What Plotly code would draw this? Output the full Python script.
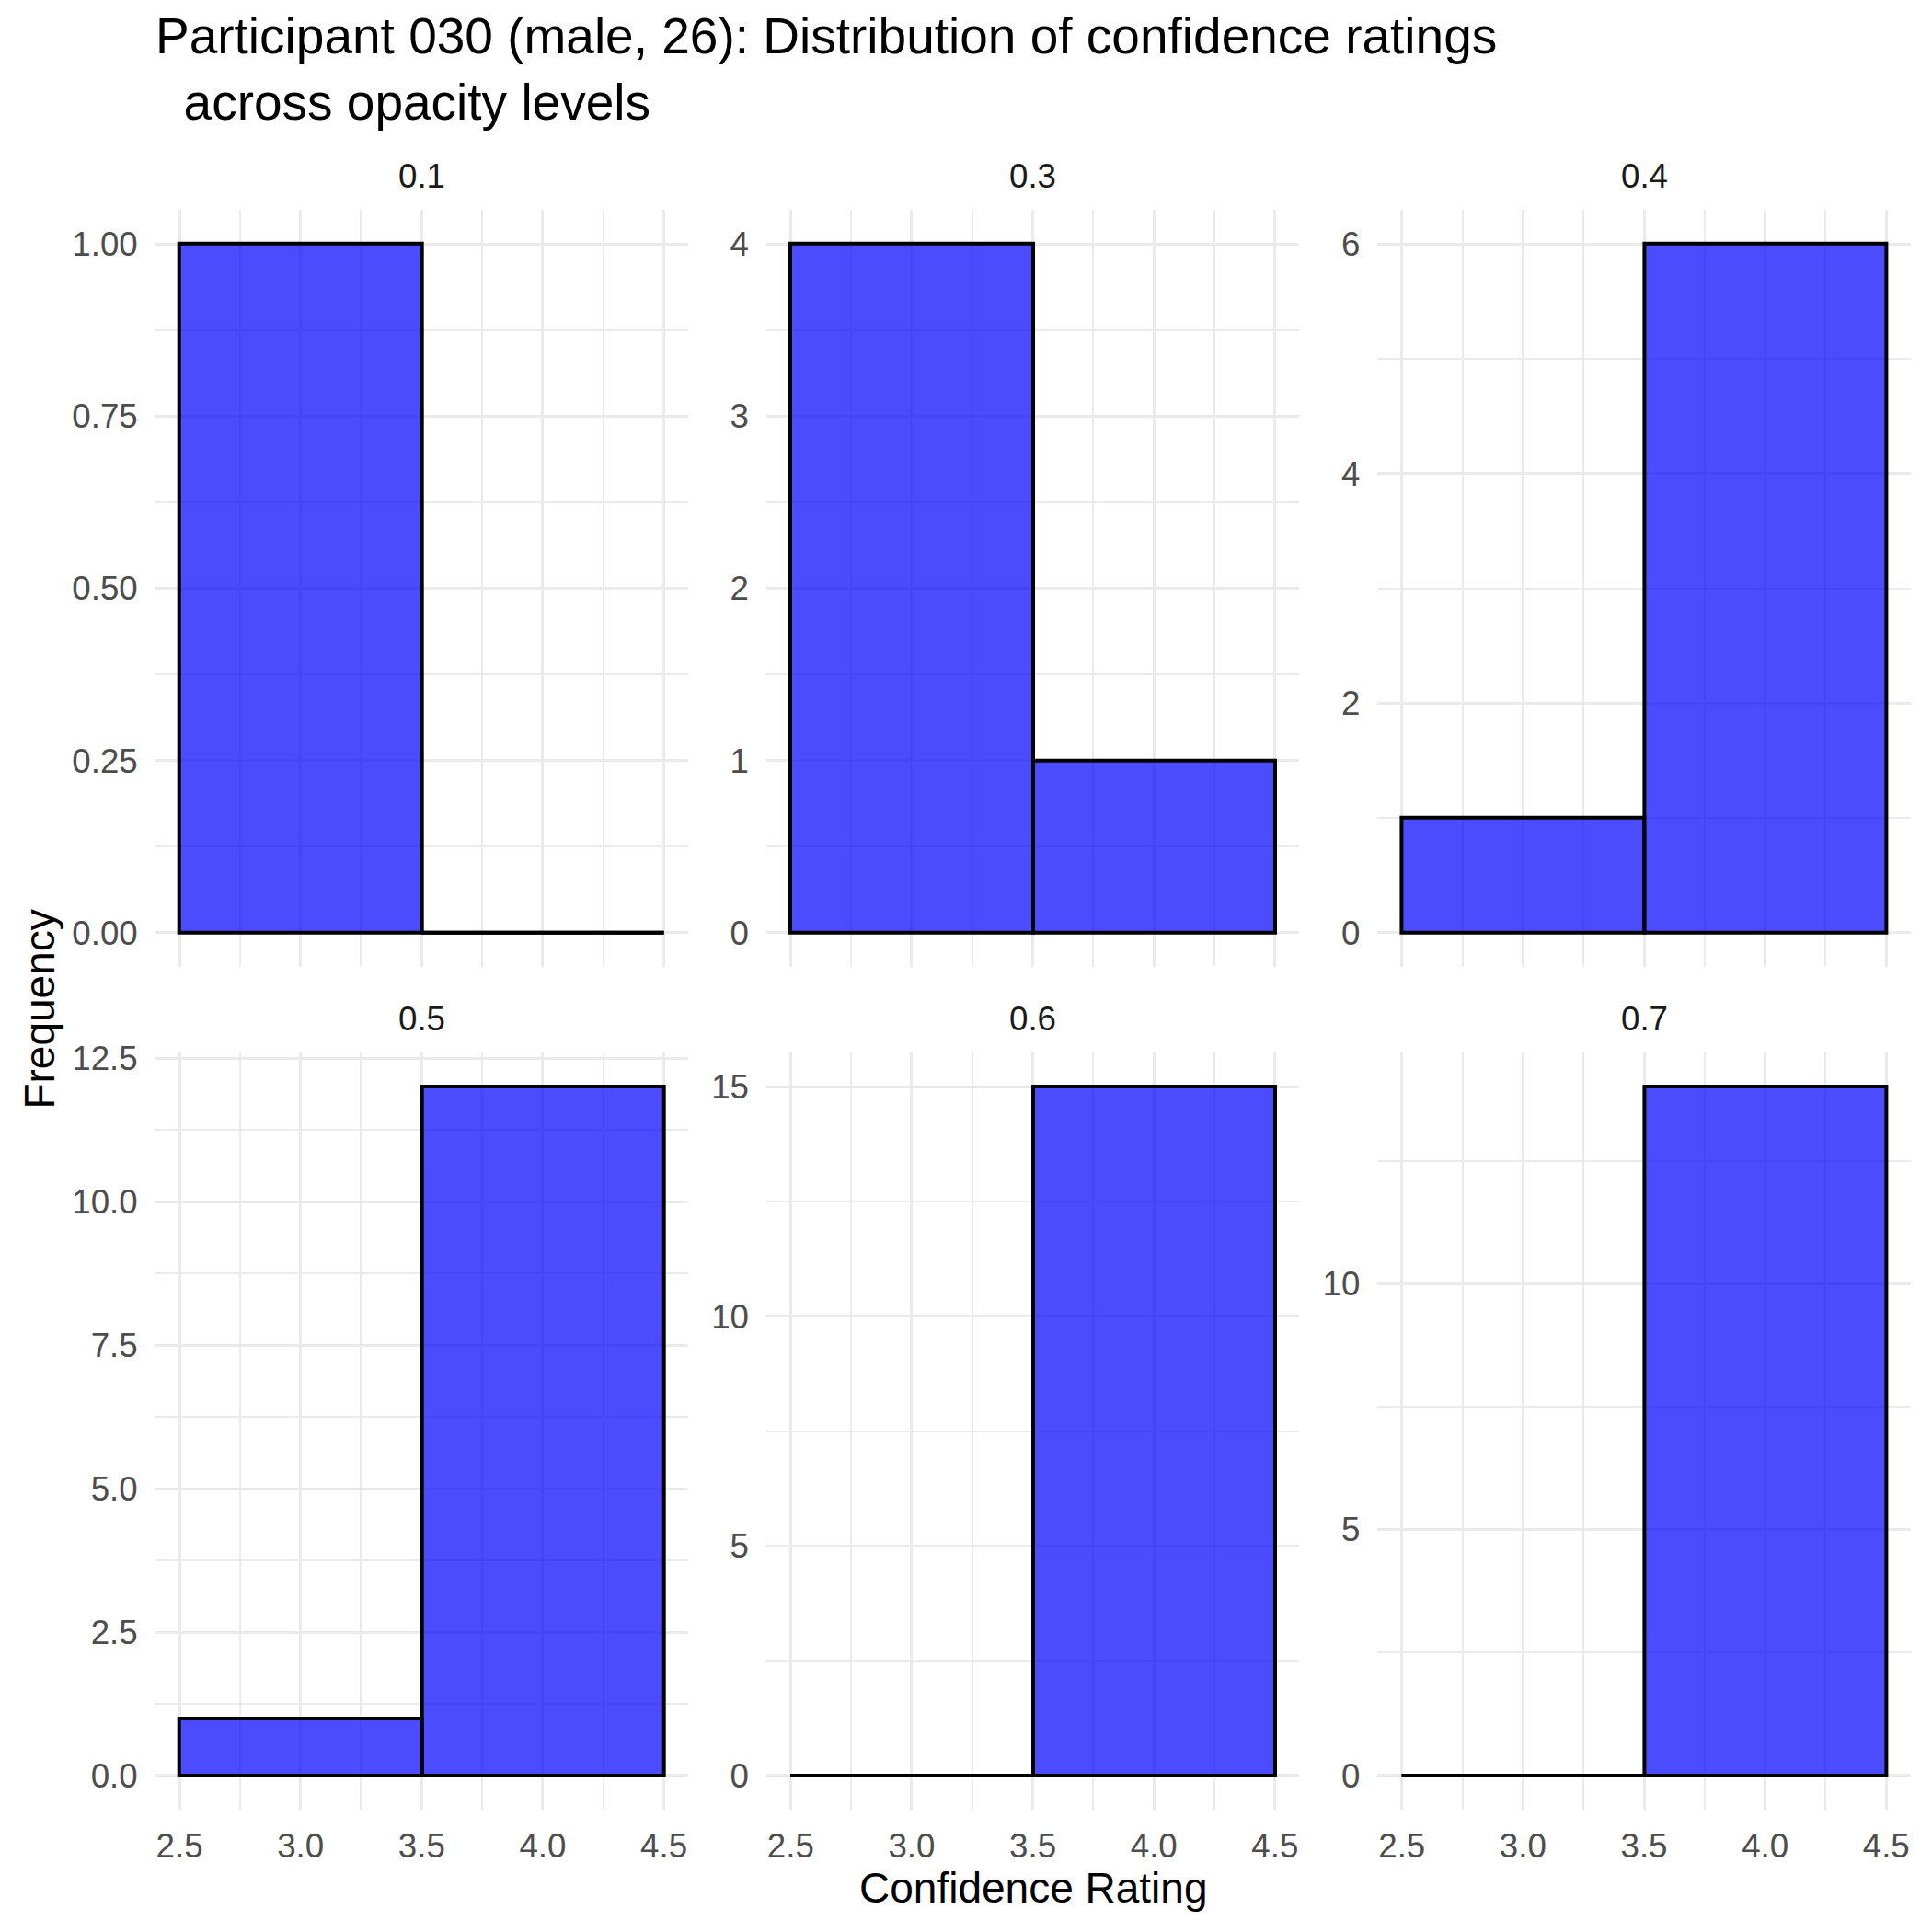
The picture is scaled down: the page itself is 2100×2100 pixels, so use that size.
import plotly.graph_objects as go

# ---------------- data ----------------
opacity_levels = ["0.1", "0.3", "0.4", "0.5", "0.6", "0.7"]
bin_edges = [2.5, 3.5, 4.5]

counts_01 = [1, 0]
counts_03 = [4, 1]
counts_04 = [1, 6]
counts_05 = [1, 12]
counts_06 = [0, 15]
counts_07 = [0, 14]

yticks_01 = [0, 0.25, 0.5, 0.75, 1.0]
ylabels_01 = ["0.00", "0.25", "0.50", "0.75", "1.00"]
yticks_03 = [0, 1, 2, 3, 4]
ylabels_03 = ["0", "1", "2", "3", "4"]
yticks_04 = [0, 2, 4, 6]
ylabels_04 = ["0", "2", "4", "6"]
yticks_05 = [0, 2.5, 5, 7.5, 10, 12.5]
ylabels_05 = ["0.0", "2.5", "5.0", "7.5", "10.0", "12.5"]
yticks_06 = [0, 5, 10, 15]
ylabels_06 = ["0", "5", "10", "15"]
yticks_07 = [0, 5, 10]
ylabels_07 = ["0", "5", "10"]

xticks = [2.5, 3.0, 3.5, 4.0, 4.5]
xlabels = ["2.5", "3.0", "3.5", "4.0", "4.5"]

title_text = ("Participant 030 (male, 26): Distribution of confidence ratings"
              "<br>\u00a0\u00a0across opacity levels")
x_title = "Confidence Rating"
y_title = "Frequency"

all_counts = [counts_01, counts_03, counts_04, counts_05, counts_06, counts_07]
all_yticks = [yticks_01, yticks_03, yticks_04, yticks_05, yticks_06, yticks_07]
all_ylabels = [ylabels_01, ylabels_03, ylabels_04, ylabels_05, ylabels_06, ylabels_07]

# ---------------- layout geometry (pixels) ----------------
W = H = 2100
FONT = "Liberation Sans, Arial, Helvetica, sans-serif"
col_left = [168.7, 833.0, 1497.4]
panel_w = 579.2
row_top = [227.8, 1143.9]
panel_h = 823.5

FILL = "rgba(0,0,255,0.7)"
GRID = "#EBEBEB"
OUTLINE_W = 4

fig = go.Figure()
layout_axes = {}
annotations = []

for i, lvl in enumerate(opacity_levels):
    r, c = divmod(i, 3)
    n = i + 1
    xa = "x" if n == 1 else f"x{n}"
    ya = "y" if n == 1 else f"y{n}"
    counts = all_counts[i]
    centers = [(bin_edges[k] + bin_edges[k + 1]) / 2 for k in range(len(counts))]
    widths = [bin_edges[k + 1] - bin_edges[k] for k in range(len(counts))]

    fig.add_trace(go.Bar(
        x=centers, y=counts, width=widths, xaxis=xa, yaxis=ya,
        marker=dict(color=FILL, line=dict(color="black", width=OUTLINE_W)),
        showlegend=False, hoverinfo="x+y",
    ))
    # zero-count bins drawn as a flat outline at 0
    for k, cnt in enumerate(counts):
        if cnt == 0:
            fig.add_trace(go.Scatter(
                x=[bin_edges[k], bin_edges[k + 1]], y=[cnt, cnt],
                xaxis=xa, yaxis=ya, mode="lines",
                line=dict(color="black", width=OUTLINE_W),
                showlegend=False, hoverinfo="skip",
            ))

    ymax = max(counts)
    yr = [-0.05 * ymax, 1.05 * ymax]
    yt = all_yticks[i]
    step = yt[1] - yt[0]
    yminor = [(yt[k] + yt[k + 1]) / 2 for k in range(len(yt) - 1)]
    if yt[-1] + step / 2 <= yr[1]:
        yminor.append(yt[-1] + step / 2)
    xminor = [(xticks[k] + xticks[k + 1]) / 2 for k in range(len(xticks) - 1)]

    x0 = col_left[c] / W
    x1 = (col_left[c] + panel_w) / W
    y1 = 1 - row_top[r] / H
    y0 = 1 - (row_top[r] + panel_h) / H

    xkey = "xaxis" if n == 1 else f"xaxis{n}"
    ykey = "yaxis" if n == 1 else f"yaxis{n}"
    layout_axes[xkey] = dict(
        domain=[x0, x1], anchor=ya, range=[2.4, 4.6],
        tickmode="array", tickvals=xticks, ticktext=xlabels,
        showticklabels=(r == 1), ticks="", ticklabelstandoff=14,
        tickfont=dict(family=FONT, size=36.7, color="#4D4D4D"),
        showgrid=True, gridcolor=GRID, gridwidth=3.4,
        minor=dict(tickvals=xminor, showgrid=True, gridcolor=GRID, gridwidth=1.9, ticks=""),
        zeroline=False, showline=False, automargin=False, fixedrange=True,
    )
    layout_axes[ykey] = dict(
        domain=[y0, y1], anchor=xa, range=yr,
        tickmode="array", tickvals=yt, ticktext=all_ylabels[i],
        ticks="", ticklabelstandoff=18,
        tickfont=dict(family=FONT, size=36.7, color="#4D4D4D"),
        showgrid=True, gridcolor=GRID, gridwidth=3.4,
        minor=dict(tickvals=yminor, showgrid=True, gridcolor=GRID, gridwidth=1.9, ticks=""),
        zeroline=False, showline=False, automargin=False, fixedrange=True,
    )

    annotations.append(dict(
        text=lvl, xref="paper", yref="paper",
        x=(x0 + x1) / 2, y=1 - (row_top[r] - 36.5) / H,
        xanchor="center", yanchor="middle", showarrow=False,
        font=dict(family=FONT, size=36.7, color="#1A1A1A"),
    ))

annotations.append(dict(
    text=x_title, xref="paper", yref="paper",
    x=(col_left[0] + col_left[2] + panel_w) / 2 / W, y=1 - 2052 / H,
    xanchor="center", yanchor="middle", showarrow=False,
    font=dict(family=FONT, size=46, color="black"),
))
annotations.append(dict(
    text=y_title, xref="paper", yref="paper",
    x=43 / W, y=1 - (row_top[0] + row_top[1] + panel_h) / 2 / H,
    xanchor="center", yanchor="middle", showarrow=False, textangle=-90,
    font=dict(family=FONT, size=46, color="black"),
))

fig.update_layout(
    width=W, height=H,
    margin=dict(l=0, r=0, t=0, b=0),
    paper_bgcolor="white", plot_bgcolor="white",
    template="none",
    barmode="overlay", bargap=0,
    title=dict(text=title_text, x=169 / W, xref="container", xanchor="left",
               y=1 - 58 / H, yref="container", yanchor="top",
               font=dict(family=FONT, size=55, color="black")),
    annotations=annotations,
    showlegend=False,
    **layout_axes,
)

fig.write_html("out.html")
